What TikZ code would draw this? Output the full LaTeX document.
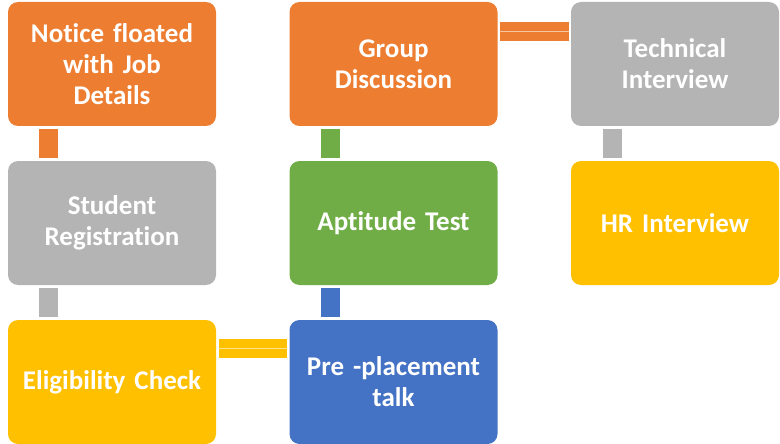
\documentclass[tikz,border=0pt]{standalone}
\usepackage{fontspec}
\setmainfont{Carlito}[Ligatures=NoCommon, WordSpace=0.8]
\usepackage{tikz}
\usetikzlibrary{calc}

\definecolor{stepOrange}{HTML}{ED7D31}
\definecolor{stepGray}{HTML}{B4B4B4}
\definecolor{stepYellow}{HTML}{FFC000}
\definecolor{stepGreen}{HTML}{70AD47}
\definecolor{stepBlue}{HTML}{4472C4}

\begin{document}
\begin{tikzpicture}[x=1pt, y=-1pt,
  stage/.style={rectangle, rounded corners=10pt, fill=#1, text=white,
    minimum width=208pt, minimum height=124pt, inner sep=0pt,
    text width=200pt, align=center,
    font=\fontsize{27}{31}\selectfont\bfseries},
  vlink/.style={line width=19pt, draw=#1, shorten <=3pt, shorten >=3pt},
  hlink/.style={line width=9pt, draw=#1, double=white!55!#1, double distance=1pt,
    shorten <=2.5pt, shorten >=2pt}]

\useasboundingbox (0,0) rectangle (780,444);

% First column
\node[stage=stepOrange] (notice) at (112,64) {Notice floated\\with Job\\Details};
\node[stage=stepGray] (register) at (112,223) {Student\\Registration};
\node[stage=stepYellow] (eligible) at (112,382) {Eligibility Check};

% Second column
\node[stage=stepBlue] (talk) at (393.5,382) {Pre -placement\\talk};
\node[stage=stepGreen] (aptitude) at (393.5,223) {Aptitude Test};
\node[stage=stepOrange] (group) at (393.5,64) {Group\\Discussion};

% Third column
\node[stage=stepGray] (technical) at (675,64) {Technical\\Interview};
\node[stage=stepYellow] (hr) at (675,223) {HR Interview};

% Vertical links
\draw[vlink=stepOrange] ([xshift=40.5pt]notice.south west) -- ([xshift=40.5pt]register.north west);
\draw[vlink=stepGray] ([xshift=40.5pt]register.south west) -- ([xshift=40.5pt]eligible.north west);
\draw[vlink=stepBlue] ([xshift=41pt]talk.north west) -- ([xshift=41pt]aptitude.south west);
\draw[vlink=stepGreen] ([xshift=41pt]aptitude.north west) -- ([xshift=41pt]group.south west);
\draw[vlink=stepGray] ([xshift=41.5pt]technical.south west) -- ([xshift=41.5pt]hr.north west);

% Horizontal links
\draw[hlink=stepYellow] ([yshift=-29pt]eligible.north east) -- ([yshift=-29pt]talk.north west);
\draw[hlink=stepOrange] ([yshift=-29.5pt]group.north east) -- ([yshift=-29.5pt]technical.north west);

\end{tikzpicture}
\end{document}
